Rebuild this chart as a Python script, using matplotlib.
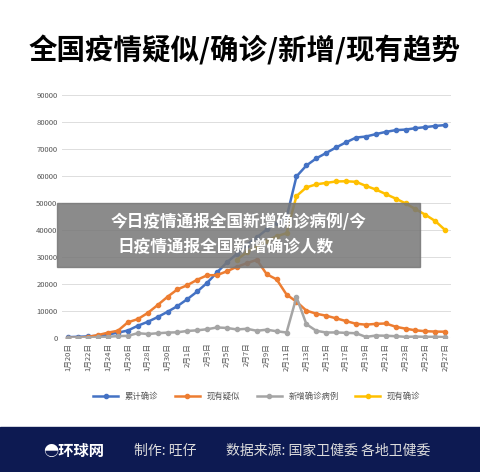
import matplotlib
matplotlib.use("Agg")
import matplotlib.pyplot as plt
import numpy as np
from matplotlib.patches import Rectangle

plt.rcParams['font.family'] = ['Noto Sans CJK SC', 'DejaVu Sans']

dates = [f"1月{d}日" for d in range(20, 32)] + [f"2月{d}日" for d in range(1, 28)]
cum = [291,440,571,830,1287,1975,2744,4515,5974,7711,9692,11791,14380,17205,20438,24324,28018,31161,34546,37198,40171,42638,44653,59804,63851,66492,68500,70548,72436,74185,74576,75465,76288,76936,77150,77658,78064,78497,78824]
susp = [54,37,393,1072,1965,2684,5794,6973,9239,12167,15238,17988,19544,21558,23214,23260,24702,26359,27657,28942,23589,21675,16067,13435,10109,8969,8228,7264,6242,5248,4922,5206,5365,4148,3434,2824,2491,2358,2308]
new = [77,149,131,259,444,688,769,1771,1459,1737,1981,2099,2590,2829,3235,3887,3694,3143,3399,2656,3062,2478,2015,15152,5090,2641,2009,2048,1886,1749,394,889,823,648,409,508,406,433,327]
cur = [np.nan]*17 + [28985,31774,33738,35982,37626,38800,52526,55748,56873,57416,57934,58016,57805,56303,54965,53284,51606,49824,47672,45604,43258,39919]
names = ["累计确诊", "现有疑似", "新增确诊病例", "现有确诊"]
colors = ["#4472C4", "#ED7D31", "#A5A5A5", "#FFC000"]

fig = plt.figure(figsize=(4.8, 4.72), dpi=100)
ax = fig.add_axes([0.13, 0.284, 0.81, 0.515])
x = np.arange(len(dates))
for s, n, c in zip([cum, susp, new, cur], names, colors):
    ax.plot(x, s, color=c, lw=1.8, marker='o', ms=3, label=n)
ax.set_ylim(0, 90000)
ax.set_yticks(range(0, 90001, 10000))
ax.set_xlim(-0.6, len(dates) - 0.4)
ax.set_xticks(x[::2])
ax.set_xticklabels(dates[::2], rotation=90, fontsize=5.5, color='#555555')
ax.tick_params(axis='y', labelsize=5.5, colors='#555555', length=0)
ax.tick_params(axis='x', length=0)
ax.grid(axis='y', color='#dddddd', lw=0.7)
for sp in ax.spines.values():
    sp.set_visible(False)
ax.axhline(0, color='#cccccc', lw=0.8)
ax.legend(loc='upper center', bbox_to_anchor=(0.5, -0.19), ncol=4, frameon=False,
          fontsize=6, handlelength=3, labelcolor='#555555')

fig.text(0.06, 0.893, "全国疫情疑似/确诊/新增/现有趋势", fontsize=20.5, fontweight='bold', va='center')
fig.patches.append(Rectangle((0, 0), 1, 0.095, transform=fig.transFigure, color='#0d1a52'))
fig.text(0.09, 0.045, "◓环球网", fontsize=11, color='white', fontweight='bold', va='center')
fig.text(0.28, 0.045, "制作: 旺仔", fontsize=10, color='#dddddd', va='center')
fig.text(0.47, 0.045, "数据来源: 国家卫健委 各地卫健委", fontsize=10, color='#dddddd', va='center')
fig.patches.append(Rectangle((0.118, 0.434), 0.758, 0.136, transform=fig.transFigure,
                             color='#777777', alpha=0.85))
fig.text(0.497, 0.53, "今日疫情通报全国新增确诊病例/今", fontsize=12, color='white',
         fontweight='bold', ha='center', va='center')
fig.text(0.47, 0.477, "日疫情通报全国新增确诊人数", fontsize=12, color='white',
         fontweight='bold', ha='center', va='center')
fig.savefig("out.png", dpi=100)
